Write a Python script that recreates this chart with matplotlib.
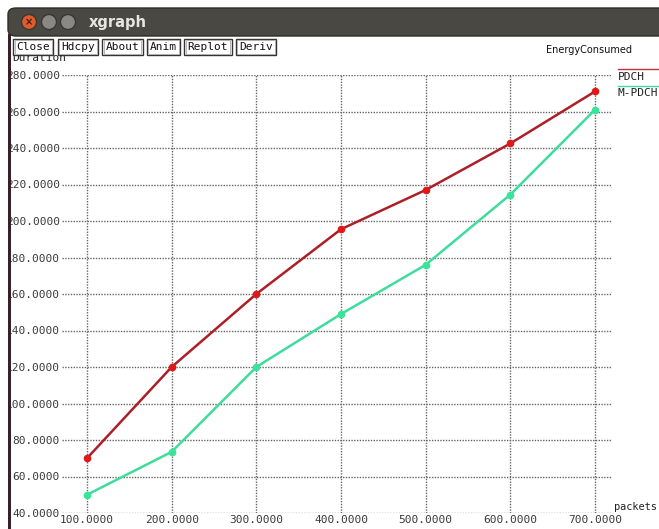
import matplotlib.pyplot as plt
from matplotlib.patches import Rectangle, FancyBboxPatch, Ellipse
from matplotlib.lines import Line2D

packets = [100, 200, 300, 400, 500, 600, 700]
pdch = [70, 120, 160, 195.5, 217, 242.5, 271]
m_pdch = [50, 73.5, 120, 149, 176, 214.5, 261]
y_ticks = [40, 60, 80, 100, 120, 140, 160, 180, 200, 220, 240, 260, 280]
buttons = ["Close", "Hdcpy", "About", "Anim", "Replot", "Deriv"]

W, H = 659, 529
fig = plt.figure(figsize=(W / 100, H / 100), dpi=100)
fig.patch.set_facecolor("white")


def fx(x):
    return x / W


def fy(y):
    return 1 - y / H


mono = "DejaVu Sans Mono"
fs = 8

# plot area
ax = fig.add_axes([fx(62), fy(513), fx(612) - fx(62), fy(75) - fy(513)])
ax.set_xlim(70.5, 720)
ax.set_ylim(40, 280)
for s in ax.spines.values():
    s.set_visible(False)
ax.set_xticks(packets)
ax.set_xticklabels(["%.4f" % v for v in packets], fontfamily=mono, fontsize=fs)
ax.set_yticks(y_ticks)
ax.set_yticklabels(["%.4f" % v for v in y_ticks], fontfamily=mono, fontsize=fs)
ax.tick_params(length=0, pad=1.5, colors="#3a3a3a")
ax.grid(True, color="#666666", linestyle=(0, (1, 1)), linewidth=1.0)

ax.plot(packets, pdch, color="#ad1f27", linewidth=1.8, zorder=3)
ax.plot(packets, pdch, "o", color="#e01818", markersize=4.5, zorder=4)
ax.plot(packets, m_pdch, color="#3fdc9c", linewidth=1.8, zorder=3)
ax.plot(packets, m_pdch, "o", color="#36e597", markersize=4.5, zorder=4)

# window border on the left hides the first digit of the labels
fig.add_artist(Rectangle((0, 0), fx(8), 1, transform=fig.transFigure,
                         facecolor="white", edgecolor="none", zorder=10))
fig.add_artist(Rectangle((fx(8), 0), fx(2.5), fy(34), transform=fig.transFigure,
                         facecolor="#3a1e2a", edgecolor="none", zorder=11))

# title bar
fig.add_artist(FancyBboxPatch((fx(8), fy(36)), fx(W + 20) - fx(8), fy(8) - fy(36),
                              boxstyle="round,pad=0,rounding_size=0.012",
                              transform=fig.transFigure, facecolor="#4a4843",
                              edgecolor="#2e2c29", linewidth=1, zorder=12))
for cx, col in [(29, "#e05a2b"), (49, "#8a8884"), (68, "#8a8884")]:
    fig.add_artist(Ellipse((fx(cx), fy(22)), fx(15), 15 / H, transform=fig.transFigure,
                           facecolor=col, edgecolor="#3a3834", zorder=13))
fig.text(fx(29), fy(22), "×", color="#3a2010", fontsize=7, fontweight="bold",
         ha="center", va="center", zorder=14)
fig.text(fx(89), fy(22), "xgraph", color="#e8e6e2", fontsize=10.5, fontweight="bold",
         fontfamily="DejaVu Sans", ha="left", va="center", zorder=14)

# y axis name, partly behind the buttons
fig.text(fx(12), fy(58), "Duration", fontfamily=mono, fontsize=fs,
         ha="left", va="center", color="#222222", zorder=12)

# button row
bx = 13
for b in buttons:
    w = len(b) * 6.7 + 7
    fig.add_artist(Rectangle((fx(bx), fy(55)), fx(w), fy(39) - fy(55),
                             transform=fig.transFigure, facecolor="white",
                             edgecolor="#333333", linewidth=1.0, zorder=13))
    fig.add_artist(Rectangle((fx(bx + 1.5), fy(53.5)), fx(w - 3), fy(40.5) - fy(53.5),
                             transform=fig.transFigure, facecolor="none",
                             edgecolor="#aaaaaa", linewidth=0.6, zorder=13))
    fig.text(fx(bx + w / 2), fy(47), b, fontfamily=mono, fontsize=fs,
             ha="center", va="center", color="#111111", zorder=14)
    bx += w + 4

fig.text(fx(632), fy(50), "EnergyConsumed", fontfamily="DejaVu Sans", fontsize=7,
         ha="right", va="center", color="#111111")

# legend in xgraph style: line above each name
fig.add_artist(Line2D([fx(618), fx(W)], [fy(69), fy(69)], transform=fig.transFigure,
                      color="#c03040", linewidth=1))
fig.text(fx(618), fy(77), "PDCH", fontfamily=mono, fontsize=fs, ha="left",
         va="center", color="#222222")
fig.add_artist(Line2D([fx(618), fx(W)], [fy(86), fy(86)], transform=fig.transFigure,
                      color="#3fdc9c", linewidth=1))
fig.text(fx(618), fy(93), "M-PDCH", fontfamily=mono, fontsize=fs, ha="left",
         va="center", color="#222222")

fig.text(fx(657), fy(507), "packets", fontfamily=mono, fontsize=7.4, ha="right",
         va="center", color="#222222")

fig.savefig("out.png", dpi=100)
